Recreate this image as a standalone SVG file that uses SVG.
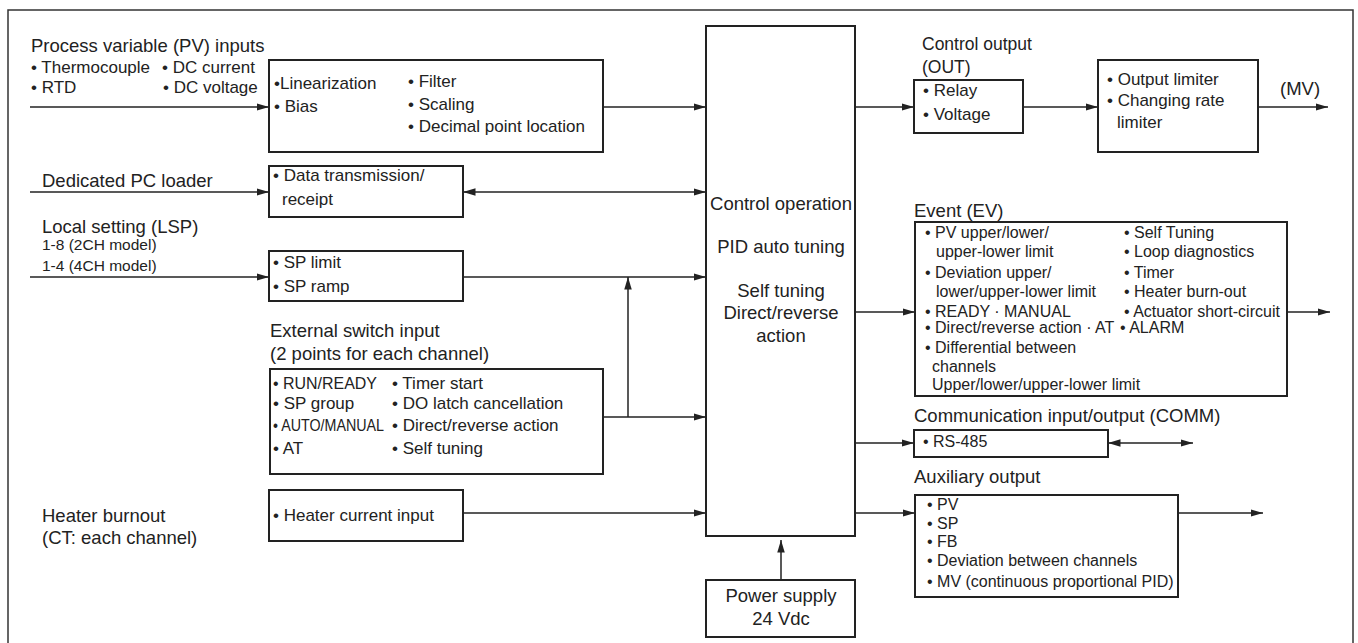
<svg xmlns="http://www.w3.org/2000/svg" width="1358" height="643" viewBox="0 0 1358 643">
<style>
text{font-family:"Liberation Sans",Arial,sans-serif;fill:#222}
.lb{font-size:18.5px}
.lb2{font-size:17.5px}
.bx{font-size:17px}
.sm{font-size:15.5px}
.ev{font-size:16px}
.box{fill:#fff;stroke:#222;stroke-width:2}
.ln{fill:none;stroke:#222;stroke-width:1.5}
.c{text-anchor:middle}
</style>
<defs>
<marker id="ah" markerUnits="userSpaceOnUse" markerWidth="13" markerHeight="8" refX="12.5" refY="3.75" orient="auto-start-reverse">
<path d="M0,0 L12.5,3.75 L0,7.5 z" fill="#222"/>
</marker>
</defs>
<rect width="1358" height="643" fill="#fff"/>
<path d="M8,643 V10 H1353 V643" fill="none" stroke="#333" stroke-width="1.5"/>

<g id="connectors">
<path class="ln" d="M30,107 H269" marker-end="url(#ah)"/>
<path class="ln" d="M603,107 H706" marker-end="url(#ah)"/>
<path class="ln" d="M855,107 H914" marker-end="url(#ah)"/>
<path class="ln" d="M1023,107 H1098" marker-end="url(#ah)"/>
<path class="ln" d="M1258,107 H1328" marker-end="url(#ah)"/>
<path class="ln" d="M30,192 H269" marker-end="url(#ah)"/>
<path class="ln" d="M463,192 H706" marker-start="url(#ah)" marker-end="url(#ah)"/>
<path class="ln" d="M30,277 H269" marker-end="url(#ah)"/>
<path class="ln" d="M463,277 H706" marker-end="url(#ah)"/>
<path class="ln" d="M603,417 H706" marker-end="url(#ah)"/>
<path class="ln" d="M628,417 V277" marker-end="url(#ah)"/>
<path class="ln" d="M463,513 H706" marker-end="url(#ah)"/>
<path class="ln" d="M781,580 V540" marker-end="url(#ah)"/>
<path class="ln" d="M855,312 H915" marker-end="url(#ah)"/>
<path class="ln" d="M1287,312 H1330" marker-end="url(#ah)"/>
<path class="ln" d="M855,443 H914" marker-end="url(#ah)"/>
<path class="ln" d="M1108,443 H1193" marker-start="url(#ah)" marker-end="url(#ah)"/>
<path class="ln" d="M855,513 H915" marker-end="url(#ah)"/>
<path class="ln" d="M1178,513 H1263" marker-end="url(#ah)"/>
</g>

<g id="pv-input-label">
<text class="lb" x="31" y="52">Process variable (PV) inputs</text>
<text class="bx" x="31" y="73">• Thermocouple</text>
<text class="bx" x="162" y="73">• DC current</text>
<text class="bx" x="31" y="93">• RTD</text>
<text class="bx" x="163" y="93">• DC voltage</text>
</g>

<g id="pv-processing">
<rect class="box" x="269" y="60" width="334" height="92"/>
<text class="bx" x="274" y="89">•Linearization</text>
<text class="bx" x="274" y="112">• Bias</text>
<text class="bx" x="408" y="87">• Filter</text>
<text class="bx" x="408" y="110">• Scaling</text>
<text class="bx" x="408" y="132">• Decimal point location</text>
</g>

<g id="control">
<rect class="box" x="706" y="26" width="149" height="510"/>
<text class="lb c" x="781" y="210">Control operation</text>
<text class="lb c" x="781" y="253">PID auto tuning</text>
<text class="lb c" x="781" y="297">Self tuning</text>
<text class="lb c" x="781" y="319">Direct/reverse</text>
<text class="lb c" x="781" y="342">action</text>
</g>

<g id="control-output">
<text class="lb2" x="922" y="50">Control output</text>
<text class="lb2" x="922" y="73">(OUT)</text>
<rect class="box" x="914" y="80" width="109" height="53"/>
<text class="bx" x="923" y="96">• Relay</text>
<text class="bx" x="923" y="120">• Voltage</text>
</g>

<g id="limiter">
<rect class="box" x="1098" y="60" width="160" height="92"/>
<text class="bx" x="1107" y="85">• Output limiter</text>
<text class="bx" x="1107" y="106">• Changing rate</text>
<text class="bx" x="1117" y="128">limiter</text>
<text class="lb" x="1280" y="95">(MV)</text>
</g>

<g id="pc-loader">
<text class="lb" x="42" y="187">Dedicated PC loader</text>
<rect class="box" x="269" y="166" width="194" height="51"/>
<text class="bx" x="273" y="181">• Data transmission/</text>
<text class="bx" x="282" y="205">receipt</text>
</g>

<g id="local-setting">
<text class="lb" x="42" y="233">Local setting (LSP)</text>
<text class="sm" x="42" y="250">1-8 (2CH model)</text>
<text class="sm" x="42" y="271">1-4 (4CH model)</text>
<rect class="box" x="269" y="251" width="194" height="50"/>
<text class="bx" x="273" y="268">• SP limit</text>
<text class="bx" x="273" y="292">• SP ramp</text>
</g>

<g id="external-switch">
<text class="lb" x="270" y="337">External switch input</text>
<text class="lb" x="270" y="360">(2 points for each channel)</text>
<rect class="box" x="270" y="369" width="333" height="105"/>
<text class="bx" x="273" y="389" textLength="104" lengthAdjust="spacingAndGlyphs">• RUN/READY</text>
<text class="bx" x="273" y="409">• SP group</text>
<text class="bx" x="273" y="431" textLength="111" lengthAdjust="spacingAndGlyphs">• AUTO/MANUAL</text>
<text class="bx" x="392" y="389">• Timer start</text>
<text class="bx" x="392" y="409">• DO latch cancellation</text>
<text class="bx" x="392" y="431">• Direct/reverse action</text>
<text class="bx" x="273" y="454">• AT</text>
<text class="bx" x="392" y="454">• Self tuning</text>
</g>

<g id="heater">
<text class="lb" x="42" y="522">Heater burnout</text>
<text class="lb" x="42" y="544">(CT: each channel)</text>
<rect class="box" x="269" y="490" width="194" height="51"/>
<text class="bx" x="273" y="521">• Heater current input</text>
</g>

<g id="power">
<rect class="box" x="706" y="580" width="149" height="57"/>
<text class="lb c" x="781" y="602">Power supply</text>
<text class="lb c" x="781" y="625">24 Vdc</text>
</g>

<g id="event">
<text class="lb" x="914" y="217">Event (EV)</text>
<rect class="box" x="915" y="222" width="372" height="174"/>
<text class="ev" x="925" y="238">• PV upper/lower/</text>
<text class="ev" x="936" y="257">upper-lower limit</text>
<text class="ev" x="925" y="278">• Deviation upper/</text>
<text class="ev" x="936" y="297">lower/upper-lower limit</text>
<text class="ev" x="925" y="317">• READY · MANUAL</text>
<text class="ev" x="925" y="333">• Direct/reverse action · AT</text>
<text class="ev" x="925" y="353">• Differential between</text>
<text class="ev" x="932" y="372">channels</text>
<text class="ev" x="932" y="390">Upper/lower/upper-lower limit</text>
<text class="ev" x="1124" y="238">• Self Tuning</text>
<text class="ev" x="1124" y="257">• Loop diagnostics</text>
<text class="ev" x="1124" y="278">• Timer</text>
<text class="ev" x="1124" y="297">• Heater burn-out</text>
<text class="ev" x="1124" y="317">• Actuator short-circuit</text>
<text class="ev" x="1120" y="333">• ALARM</text>
</g>

<g id="comm">
<text class="lb" x="914" y="422">Communication input/output (COMM)</text>
<rect class="box" x="914" y="430" width="194" height="27"/>
<text class="ev" x="923" y="447">• RS-485</text>
</g>

<g id="auxiliary">
<text class="lb" x="914" y="483">Auxiliary output</text>
<rect class="box" x="915" y="495" width="263" height="102"/>
<text class="ev" x="927" y="510">• PV</text>
<text class="ev" x="927" y="529">• SP</text>
<text class="ev" x="927" y="547">• FB</text>
<text class="ev" x="927" y="566">• Deviation between channels</text>
<text class="ev" x="927" y="587">• MV (continuous proportional PID)</text>
</g>
</svg>
